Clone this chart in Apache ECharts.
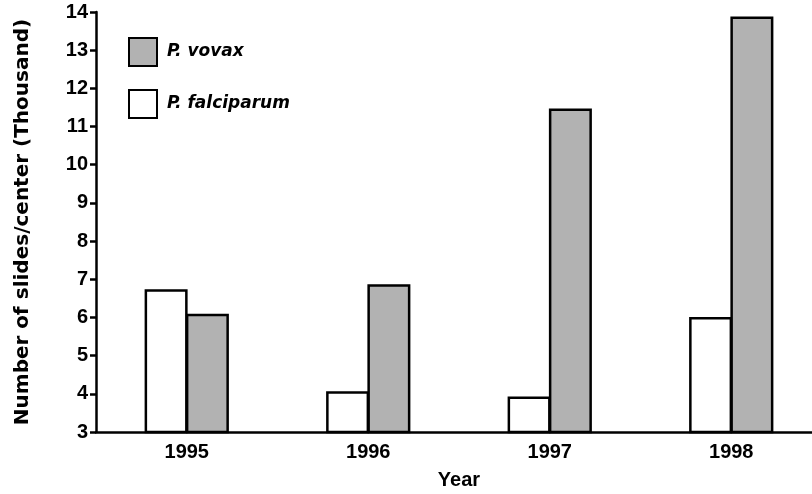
<!DOCTYPE html>
<html lang="en">
<head>
    <meta charset="UTF-8">
    <title>Slides per center</title>
    <script src="https://cdn.jsdelivr.net/npm/echarts@6/dist/echarts.min.js"></script>
    <style>
        html, body { margin: 0; padding: 0; background: #fff; }
    </style>
</head>
<body>
    <div id="myChart" style="width: 812px; height: 494px;"></div>
    <script>
        // data
        var years = ['1995', '1996', '1997', '1998'];
        var falciparum = [6.74, 4.07, 3.93, 6.01];
        var vovax = [6.10, 6.87, 11.47, 13.88];

        var TICK_FONT = '"Liberation Sans", Arial, sans-serif';
        var NAME_FONT = '"DejaVu Sans", Verdana, sans-serif';

        var myChart = echarts.init(document.getElementById('myChart'));

        var option = {
            animation: false,
            // the x axis runs a little past the right edge of the picture
            grid: { left: 96, top: 12, bottom: 62, width: 726, outerBoundsMode: 'none', containLabel: false },
            legend: {
                orient: 'vertical',
                left: 123,
                top: 32,
                icon: 'rect',
                itemWidth: 28,
                itemHeight: 28,
                itemGap: 22,
                data: ['P. vovax', 'P. falciparum'],
                textStyle: {
                    fontFamily: NAME_FONT, fontSize: 17, fontWeight: 'bold', fontStyle: 'italic',
                    color: '#000', padding: [0, 0, 2, 5]
                }
            },
            xAxis: {
                type: 'category',
                data: years,
                name: 'Year',
                nameLocation: 'middle',
                nameGap: 38,
                nameTextStyle: { fontFamily: TICK_FONT, fontSize: 20, fontWeight: 'bold', color: '#000' },
                axisLine: { lineStyle: { color: '#000', width: 2.5 } },
                axisTick: { length: 6, lineStyle: { color: '#000', width: 2.5 } },
                axisLabel: { fontFamily: TICK_FONT, fontSize: 20, fontWeight: 'bold', color: '#000', margin: 10 }
            },
            yAxis: {
                type: 'value',
                min: 3,
                max: 14,
                interval: 1,
                name: 'Number of slides/center (Thousand)',
                nameLocation: 'middle',
                nameGap: 63,
                nameTextStyle: { fontFamily: NAME_FONT, fontSize: 20, fontWeight: 'bold', color: '#000' },
                axisLine: { show: true, lineStyle: { color: '#000', width: 2.5 } },
                axisTick: { show: true, length: 6, lineStyle: { color: '#000', width: 2.5 } },
                axisLabel: { fontFamily: TICK_FONT, fontSize: 20, fontWeight: 'bold', color: '#000', margin: 8 },
                splitLine: { show: false }
            },
            series: [
                {
                    name: 'P. falciparum',
                    type: 'bar',
                    data: falciparum,
                    barWidth: 43,
                    barGap: '-4%',
                    itemStyle: { color: '#ffffff', borderColor: '#000', borderWidth: 2.5 }
                },
                {
                    name: 'P. vovax',
                    type: 'bar',
                    data: vovax,
                    barWidth: 43,
                    barGap: '-4%',
                    itemStyle: { color: '#b2b2b2', borderColor: '#000', borderWidth: 2.5 }
                }
            ]
        };

        myChart.setOption(option);
    </script>
</body>
</html>
